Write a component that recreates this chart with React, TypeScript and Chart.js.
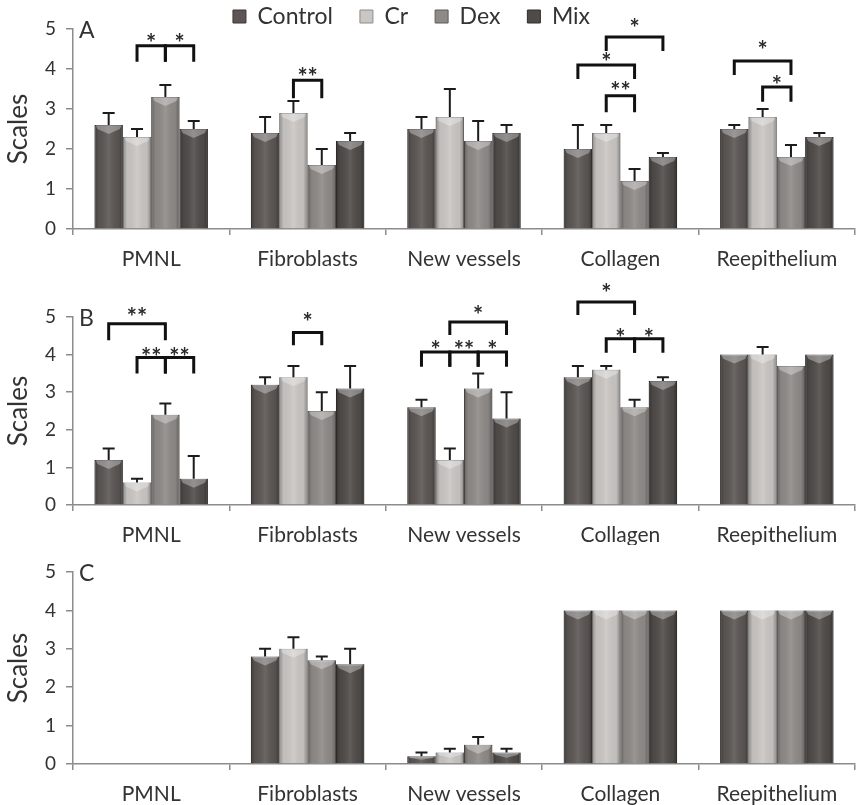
import { useEffect, useRef } from "react";
import { Chart, registerables } from "chart.js";

Chart.register(...registerables);

const categories = ["PMNL", "Fibroblasts", "New vessels", "Collagen", "Reepithelium"];
const groups = ["Control", "Cr", "Dex", "Mix"];
const yTicks = [0, 1, 2, 3, 4, 5];

// panel A: means and upper error
const aControl = [2.6, 2.4, 2.5, 2.0, 2.5];
const aCr = [2.3, 2.9, 2.8, 2.4, 2.8];
const aDex = [3.3, 1.6, 2.2, 1.2, 1.8];
const aMix = [2.5, 2.2, 2.4, 1.8, 2.3];
const aControlSd = [0.3, 0.4, 0.3, 0.6, 0.1];
const aCrSd = [0.2, 0.3, 0.7, 0.2, 0.2];
const aDexSd = [0.3, 0.4, 0.5, 0.3, 0.3];
const aMixSd = [0.2, 0.2, 0.2, 0.1, 0.1];

// panel B
const bControl = [1.2, 3.2, 2.6, 3.4, 4.0];
const bCr = [0.6, 3.4, 1.2, 3.6, 4.0];
const bDex = [2.4, 2.5, 3.1, 2.6, 3.7];
const bMix = [0.7, 3.1, 2.3, 3.3, 4.0];
const bControlSd = [0.3, 0.2, 0.2, 0.3, 0];
const bCrSd = [0.1, 0.3, 0.3, 0.1, 0.2];
const bDexSd = [0.3, 0.5, 0.4, 0.2, 0];
const bMixSd = [0.6, 0.6, 0.7, 0.1, 0];

// panel C
const cControl = [0, 2.8, 0.2, 4, 4];
const cCr = [0, 3.0, 0.3, 4, 4];
const cDex = [0, 2.7, 0.5, 4, 4];
const cMix = [0, 2.6, 0.3, 4, 4];
const cControlSd = [0, 0.2, 0.1, 0, 0];
const cCrSd = [0, 0.3, 0.1, 0, 0];
const cDexSd = [0, 0.1, 0.2, 0, 0];
const cMixSd = [0, 0.4, 0.1, 0, 0];

// significance brackets: category, groups a..b, bar level, foot level, stars, star level
interface Bracket { c: number; a: number; b: number; top: number; foot: number; text: string; at: number }

const aBrackets: Bracket[] = [
  { c: 0, a: 1, b: 2, top: 4.58, foot: 4.18, text: "*", at: 4.78 },
  { c: 0, a: 2, b: 3, top: 4.58, foot: 4.18, text: "*", at: 4.78 },
  { c: 1, a: 1, b: 2, top: 3.72, foot: 3.27, text: "**", at: 3.93 },
  { c: 3, a: 1, b: 3, top: 4.8, foot: 4.45, text: "*", at: 5.15 },
  { c: 3, a: 0, b: 2, top: 4.1, foot: 3.75, text: "*", at: 4.3 },
  { c: 3, a: 1, b: 2, top: 3.33, foot: 2.92, text: "**", at: 3.58 },
  { c: 4, a: 0, b: 2, top: 4.2, foot: 3.85, text: "*", at: 4.6 },
  { c: 4, a: 1, b: 2, top: 3.55, foot: 3.18, text: "*", at: 3.72 },
];

const bBrackets: Bracket[] = [
  { c: 0, a: 0, b: 2, top: 4.82, foot: 4.38, text: "**", at: 5.13 },
  { c: 0, a: 1, b: 2, top: 3.92, foot: 3.5, text: "**", at: 4.07 },
  { c: 0, a: 2, b: 3, top: 3.92, foot: 3.5, text: "**", at: 4.07 },
  { c: 1, a: 1, b: 2, top: 4.59, foot: 4.25, text: "*", at: 5.0 },
  { c: 2, a: 1, b: 3, top: 4.87, foot: 4.52, text: "*", at: 5.18 },
  { c: 2, a: 0, b: 1, top: 4.07, foot: 3.68, text: "*", at: 4.26 },
  { c: 2, a: 1, b: 2, top: 4.07, foot: 3.68, text: "**", at: 4.26 },
  { c: 2, a: 2, b: 3, top: 4.07, foot: 3.68, text: "*", at: 4.26 },
  { c: 3, a: 0, b: 2, top: 5.4, foot: 5.05, text: "*", at: 5.77 },
  { c: 3, a: 1, b: 2, top: 4.42, foot: 4.05, text: "*", at: 4.58 },
  { c: 3, a: 2, b: 3, top: 4.42, foot: 4.05, text: "*", at: 4.58 },
];

const fills = ["#5b5654", "#c9c6c3", "#8e8a87", "#4f4b49"];
const edges = ["#3b3735", "#8e8b88", "#5f5b59", "#312e2c"];
const FONT = "Lato, 'Open Sans', sans-serif";
const AXIS = "#8c8c8c";
const TEXT = "#333333";

Chart.defaults.font.family = FONT;

// 3D-ish shading on top of the library's bars
const barShade = {
  id: "barShade",
  afterDatasetsDraw(chart: any) {
    const { ctx } = chart;
    ctx.save();
    chart.data.datasets.forEach((_: any, di: number) => {
      chart.getDatasetMeta(di).data.forEach((el: any) => {
        const { x, y, base, width } = el;
        const h = base - y;
        if (h < 1) return;
        const l = x - width / 2;
        const r = x + width / 2;
        const g = ctx.createLinearGradient(l, 0, r, 0);
        g.addColorStop(0, "rgba(0,0,0,0.30)");
        g.addColorStop(0.15, "rgba(0,0,0,0.04)");
        g.addColorStop(0.5, "rgba(255,255,255,0.10)");
        g.addColorStop(0.85, "rgba(0,0,0,0.04)");
        g.addColorStop(1, "rgba(0,0,0,0.32)");
        ctx.fillStyle = g;
        ctx.fillRect(l, y, width, h);
        const d = Math.min(9, h / 2);
        ctx.beginPath();
        ctx.moveTo(l + 1, y);
        ctx.lineTo(r - 1, y);
        ctx.lineTo(r - 3, y + d * 0.45);
        ctx.lineTo(x, y + d);
        ctx.lineTo(l + 3, y + d * 0.45);
        ctx.closePath();
        ctx.fillStyle = "rgba(255,255,255,0.32)";
        ctx.fill();
      });
    });
    ctx.restore();
  },
};

const errorBars = {
  id: "errorBars",
  afterDatasetsDraw(chart: any) {
    const { ctx } = chart;
    const y = chart.scales.y;
    ctx.save();
    ctx.strokeStyle = "#1c1c1c";
    ctx.lineWidth = 2;
    chart.data.datasets.forEach((ds: any, di: number) => {
      if (!ds.errors) return;
      chart.getDatasetMeta(di).data.forEach((el: any, i: number) => {
        const e = ds.errors[i];
        if (!e) return;
        const top = y.getPixelForValue(ds.data[i] + e);
        ctx.beginPath();
        ctx.moveTo(el.x, el.y);
        ctx.lineTo(el.x, top);
        ctx.moveTo(el.x - 6, top);
        ctx.lineTo(el.x + 6, top);
        ctx.stroke();
      });
    });
    ctx.restore();
  },
};

const brackets = {
  id: "brackets",
  afterDraw(chart: any, _args: any, opts: any) {
    const { ctx } = chart;
    const y = chart.scales.y;
    ctx.save();
    ctx.strokeStyle = "#111111";
    ctx.lineWidth = 3;
    ctx.fillStyle = "#2a2a2a";
    ctx.font = `bold 24px ${FONT}`;
    ctx.textAlign = "center";
    ctx.textBaseline = "alphabetic";
    (opts.items || []).forEach((b: Bracket) => {
      const x1 = chart.getDatasetMeta(b.a).data[b.c].x;
      const x2 = chart.getDatasetMeta(b.b).data[b.c].x;
      const yt = y.getPixelForValue(b.top);
      const yf = y.getPixelForValue(b.foot);
      ctx.beginPath();
      ctx.moveTo(x1, yf);
      ctx.lineTo(x1, yt);
      ctx.lineTo(x2, yt);
      ctx.lineTo(x2, yf);
      ctx.stroke();
      ctx.fillText(b.text, (x1 + x2) / 2, y.getPixelForValue(b.at) + 14);
    });
    // panel letter
    if (opts.letter) {
      ctx.fillStyle = TEXT;
      ctx.font = `23px ${FONT}`;
      ctx.textAlign = "left";
      ctx.textBaseline = "middle";
      ctx.fillText(opts.letter, chart.chartArea.left + 6, chart.chartArea.top + 2);
    }
    ctx.restore();
  },
};

// moves the legend up/left without changing the chart area
const legendNudge = {
  id: "legendNudge",
  afterLayout(chart: any, _args: any, opts: any) {
    const lg = chart.legend;
    if (!lg || !chart.options.plugins.legend.display) return;
    lg.top += opts.dy || 0;
    lg.left += opts.dx || 0;
    lg.right += opts.dx || 0;
  },
};

interface PanelProps {
  letter: string;
  values: number[][];
  errors: number[][];
  marks: Bracket[];
  height: number;
  top: number;
  xHeight: number;
  legend?: boolean;
}

function Panel({ letter, values, errors, marks, height, top, xHeight, legend }: PanelProps) {
  const chartRef = useRef<HTMLCanvasElement>(null);

  useEffect(() => {
    if (!chartRef.current) return;
    const chart = new Chart(chartRef.current, {
      type: "bar",
      data: {
        labels: categories,
        datasets: groups.map((g, i) => ({
          label: g,
          data: values[i],
          errors: errors[i],
          backgroundColor: fills[i],
          borderColor: edges[i],
          borderWidth: 1,
          categoryPercentage: 0.725,
          barPercentage: 1.0,
        })) as any,
      },
      options: {
        animation: false,
        responsive: true,
        maintainAspectRatio: false,
        layout: { padding: { top: legend ? 0 : top, right: 6, left: 0, bottom: 0 } },
        plugins: {
          legend: {
            display: !!legend,
            position: "top",
            maxHeight: top,
            labels: {
              boxWidth: 13,
              boxHeight: 13,
              padding: 27,
              color: TEXT,
              font: { family: FONT, size: 23 },
            },
          },
          tooltip: { enabled: false },
          brackets: { items: marks, letter },
          legendNudge: { dx: -16, dy: -22 },
        } as any,
        scales: {
          x: {
            grid: {
              display: true,
              drawOnChartArea: false,
              drawTicks: true,
              tickLength: 6,
              color: AXIS,
              lineWidth: 1.5,
              offset: true,
            },
            border: { color: AXIS, width: 1.5 },
            ticks: {
              color: TEXT,
              font: { family: FONT, size: 21 },
              padding: 12,
              maxRotation: 0,
              autoSkip: false,
            },
            afterFit: (scale: any) => {
              scale.height = xHeight;
            },
          },
          y: {
            min: yTicks[0],
            max: yTicks[yTicks.length - 1],
            grid: {
              drawOnChartArea: false,
              drawTicks: true,
              tickLength: 7,
              color: AXIS,
              lineWidth: 1.5,
            },
            border: { color: AXIS, width: 1.5 },
            ticks: {
              stepSize: 1,
              color: TEXT,
              font: { family: FONT, size: 19 },
              padding: 10,
            },
            title: {
              display: true,
              text: "Scales",
              color: TEXT,
              font: { family: FONT, size: 26 },
              padding: { top: 3, bottom: 0 },
            },
            afterFit: (scale: any) => {
              scale.width = 73;
            },
          },
        },
      },
      plugins: [barShade, errorBars, brackets, legendNudge] as any,
    });

    return () => {
      chart.destroy();
    };
  }, [letter, values, errors, marks, height, top, xHeight, legend]);

  return (
    <div style={{ position: "relative", width: 861, height }}>
      <canvas ref={chartRef} />
    </div>
  );
}

const panelA = { values: [aControl, aCr, aDex, aMix], errors: [aControlSd, aCrSd, aDexSd, aMixSd] };
const panelB = { values: [bControl, bCr, bDex, bMix], errors: [bControlSd, bCrSd, bDexSd, bMixSd] };
const panelC = { values: [cControl, cCr, cDex, cMix], errors: [cControlSd, cCrSd, cDexSd, cMixSd] };
const noMarks: Bracket[] = [];

export default function App() {
  return (
    <div style={{ position: "absolute", left: 0, top: 0, width: 861, height: 805, background: "#ffffff" }}>
      <Panel letter="A" {...panelA} marks={aBrackets} height={272} top={29} xHeight={43} legend />
      <Panel letter="B" {...panelB} marks={bBrackets} height={273} top={45} xHeight={40} />
      <Panel letter="C" {...panelC} marks={noMarks} height={260} top={27} xHeight={41} />
    </div>
  );
}
